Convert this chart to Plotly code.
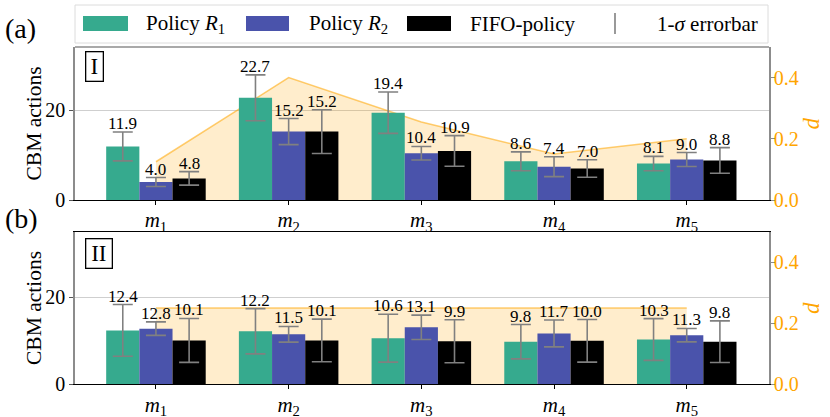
import numpy as np
import plotly.graph_objects as go

W, H = 830, 417
FONT = "Liberation Serif"

# ---------------- data ----------------
categories = ["m1", "m2", "m3", "m4", "m5"]
tick_labels = ["<i>m</i><sub>1</sub>", "<i>m</i><sub>2</sub>", "<i>m</i><sub>3</sub>",
               "<i>m</i><sub>4</sub>", "<i>m</i><sub>5</sub>"]
series_names = ["Policy <i>R</i><sub>1</sub>", "Policy <i>R</i><sub>2</sub>", "FIFO-policy"]
series_colors = ["#36AA8E", "#4A53AB", "#000000"]

# panel (a)
a_r1 = [11.9, 22.7, 19.4, 8.6, 8.1]
a_r2 = [4.0, 15.2, 10.4, 7.4, 9.0]
a_fifo = [4.8, 15.2, 10.9, 7.0, 8.8]
a_r1_err = [3.2, 5.1, 4.6, 2.1, 1.6]
a_r2_err = [1.0, 2.9, 1.5, 2.2, 1.55]
a_fifo_err = [1.5, 4.85, 3.4, 1.95, 2.85]
a_d = [0.125, 0.40, 0.255, 0.15, 0.20]

# panel (b)
b_r1 = [12.4, 12.2, 10.6, 9.8, 10.3]
b_r2 = [12.8, 11.5, 13.1, 11.7, 11.3]
b_fifo = [10.1, 10.1, 9.9, 10.0, 9.8]
b_r1_err = [5.95, 5.2, 5.5, 3.95, 4.8]
b_r2_err = [1.55, 1.8, 2.8, 3.1, 1.55]
b_fifo_err = [5.05, 4.9, 4.95, 4.9, 4.8]
b_d = [0.25, 0.25, 0.25, 0.25, 0.25]

# ---------------- layout helpers ----------------
def px_x(p):
    return p / W

def px_y(p):
    return 1 - p / H

x_dom = [px_x(75), px_x(769)]
a_dom = [px_y(200), px_y(47)]
b_dom = [px_y(384.3), px_y(231.7)]

xi = np.arange(len(categories))
offsets = [-0.25, 0.0, 0.25]
bar_w = 0.25

fig = go.Figure()
annotations = []

panels = [
    dict(vals=[a_r1, a_r2, a_fifo], errs=[a_r1_err, a_r2_err, a_fifo_err], d=a_d,
         xa="x", yd="y", yc="y2"),
    dict(vals=[b_r1, b_r2, b_fifo], errs=[b_r1_err, b_r2_err, b_fifo_err], d=b_d,
         xa="x2", yd="y3", yc="y4"),
]

for p in panels:
    fig.add_trace(go.Scatter(
        x=xi, y=p["d"], mode="lines", fill="tozeroy",
        line=dict(color="rgba(255,165,0,0.55)", width=1.5),
        fillcolor="rgba(255,165,0,0.2)",
        xaxis=p["xa"], yaxis=p["yd"], showlegend=False, hoverinfo="skip"))
    for k in range(3):
        vals, errs = p["vals"][k], p["errs"][k]
        fig.add_trace(go.Bar(
            x=xi + offsets[k], y=vals, width=bar_w,
            marker=dict(color=series_colors[k], line=dict(width=0)),
            error_y=dict(type="data", array=errs, color="#808080", thickness=1.6, width=10),
            xaxis=p["xa"], yaxis=p["yc"], showlegend=False, name=series_names[k]))
        for xv, v, e in zip(xi + offsets[k], vals, errs):
            annotations.append(dict(
                text=f"{v:.1f}", x=float(xv), y=v + e, xref=p["xa"], yref=p["yc"],
                xanchor="center", yanchor="bottom", showarrow=False, borderpad=0, yshift=-2,
                font=dict(family=FONT, size=17, color="black")))

xcommon = dict(range=[-0.61, 4.62], tickvals=list(xi), ticktext=tick_labels,
               showline=True, linecolor="black", linewidth=1.3, ticks="outside",
               ticklen=4, tickcolor="black", tickwidth=1.2, showgrid=False, zeroline=False,
               ticklabelstandoff=-3, automargin=False,
               tickfont=dict(family=FONT, size=21, color="black"), domain=x_dom)
dcommon = dict(range=[0, 0.5], tickvals=[0.0, 0.2, 0.4], tickformat=".1f", side="right",
               showline=True, linecolor="#8c8c8c", linewidth=1.5, ticks="outside", ticklen=4,
               tickcolor="#8c8c8c", showgrid=False, zeroline=False, ticklabelstandoff=-5,
               automargin=False,
               tickfont=dict(family=FONT, size=20, color="#FFA500"))
ccommon = dict(tickvals=[0, 20], side="left", showline=True, linecolor="#8c8c8c", linewidth=1.5,
               ticks="outside", ticklen=4, tickcolor="#555555", showgrid=True,
               gridcolor="#cfcfcf", gridwidth=1, zeroline=False, automargin=False,
               tickfont=dict(family=FONT, size=20, color="black"))

fig.update_layout(
    width=W, height=H, autosize=False, margin=dict(l=0, r=0, t=0, b=0, pad=0, autoexpand=False),
    plot_bgcolor="rgba(0,0,0,0)", paper_bgcolor="white", barmode="overlay",
    font=dict(family=FONT, color="black"),
    xaxis=dict(anchor="y", **xcommon),
    xaxis2=dict(anchor="y3", mirror=True, **xcommon),
    yaxis=dict(anchor="x", domain=a_dom, **dcommon),
    yaxis2=dict(anchor="x", overlaying="y", range=[0, 34], **ccommon),
    yaxis3=dict(anchor="x2", domain=b_dom, **dcommon),
    yaxis4=dict(anchor="x2", overlaying="y3", range=[0, 35.1], **ccommon),
)

shapes = []
shapes.append(dict(type="line", xref="x domain", yref="y domain", x0=0, x1=1, y0=1, y1=1,
                   line=dict(color="#8c8c8c", width=1.5)))

for lab, yc in [("(a)", 28), ("(b)", 218)]:
    annotations.append(dict(text=lab, x=px_x(3), y=px_y(yc), xref="paper", yref="paper",
                            xanchor="left", yanchor="middle", showarrow=False,
                            font=dict(family=FONT, size=28)))
for lab, ytop, wbox in [("I", 51, 14), ("II", 238, 23)]:
    annotations.append(dict(text=lab, x=px_x(85), y=px_y(ytop), xref="paper", yref="paper",
                            xanchor="left", yanchor="top", showarrow=False,
                            width=wbox, height=26, borderpad=1, bordercolor="black",
                            borderwidth=1.3, bgcolor="white",
                            font=dict(family=FONT, size=23)))
for yc in [123.5, 308]:
    annotations.append(dict(text="CBM actions", x=px_x(34), y=px_y(yc), xref="paper",
                            yref="paper", xanchor="center", yanchor="middle", textangle=-90,
                            showarrow=False, font=dict(family=FONT, size=21.5)))
    annotations.append(dict(text="<i>d</i>", x=px_x(811), y=px_y(yc), xref="paper",
                            yref="paper", xanchor="center", yanchor="middle", textangle=-90,
                            showarrow=False, font=dict(family=FONT, size=23, color="#FFA500")))

shapes.append(dict(type="rect", xref="paper", yref="paper", x0=px_x(75), x1=px_x(768),
                   y0=px_y(43), y1=px_y(5), line=dict(color="#dcdcdc", width=1),
                   fillcolor="white"))
legend_items = [(83, 128, 144), (246, 289, 307), (407, 451, 468)]
for (x0, x1, xt), name, col in zip(legend_items, series_names, series_colors):
    shapes.append(dict(type="rect", xref="paper", yref="paper", x0=px_x(x0), x1=px_x(x1),
                       y0=px_y(31), y1=px_y(16), line=dict(width=0), fillcolor=col))
    annotations.append(dict(text=name, x=px_x(xt), y=px_y(24), xref="paper", yref="paper",
                            xanchor="left", yanchor="middle", showarrow=False,
                            font=dict(family=FONT, size=21)))
shapes.append(dict(type="line", xref="paper", yref="paper", x0=px_x(615), x1=px_x(615),
                   y0=px_y(34), y1=px_y(13), line=dict(color="#808080", width=1.6)))
annotations.append(dict(text="1-<i>σ</i> errorbar", x=px_x(655), y=px_y(24), xref="paper",
                        yref="paper", xanchor="left", yanchor="middle", showarrow=False,
                        font=dict(family=FONT, size=21)))

fig.update_layout(shapes=shapes, annotations=annotations)

post = (
    "document.body.style.margin='0px';"
    "document.body.style.overflow='hidden';"
)
fig.write_html("out.html", config={"displayModeBar": False, "responsive": False},
               post_script=post)
